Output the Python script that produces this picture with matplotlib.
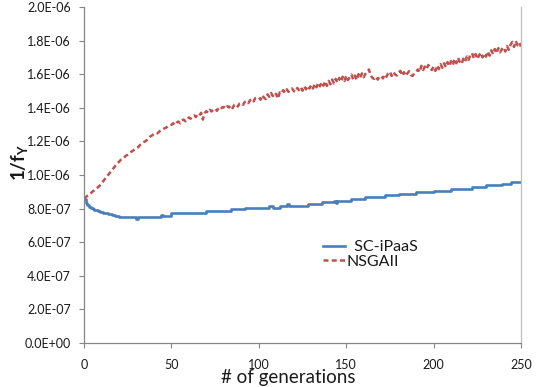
import matplotlib
matplotlib.use("Agg")
import matplotlib.pyplot as plt
from matplotlib.ticker import FuncFormatter, FixedLocator
from matplotlib.lines import Line2D

plt.rcParams['font.family'] = ['Lato', 'DejaVu Sans']
plt.rcParams['mathtext.fontset'] = 'custom'
plt.rcParams['mathtext.bf'] = 'Lato:bold'
plt.rcParams['mathtext.rm'] = 'Lato'

UNIT = 1e-7  # values below are in units of 1e-7

# SC-iPaaS: step-like best value (generation breakpoints, value)
sc_gen = [0, 1, 2, 3, 4, 5, 6, 7, 8, 9, 10, 11, 12, 13, 14, 15, 16, 17, 18, 19, 20,
          29, 30, 31, 44, 45, 50, 70, 84, 92, 106, 108, 112, 116, 117, 128, 136,
          143, 144, 145, 153, 161, 172, 180, 190, 200, 210, 222, 230, 239, 244, 250]
sc_val = [8.55, 8.35, 8.22, 8.12, 8.04, 7.98, 7.94, 7.90, 7.86, 7.82, 7.78, 7.76,
          7.74, 7.72, 7.70, 7.66, 7.64, 7.62, 7.58, 7.54, 7.48,
          7.48, 7.40, 7.48, 7.60, 7.56, 7.76, 7.86, 7.96, 8.06, 8.14, 8.06, 8.17,
          8.25, 8.17, 8.29, 8.37, 8.43, 8.33, 8.47, 8.57, 8.67, 8.79, 8.89, 8.97,
          9.07, 9.17, 9.29, 9.39, 9.46, 9.56, 9.56]

# NSGAII: one value per generation 0..250
nsga_val = [
    8.60, 8.68, 8.77, 8.85, 8.93, 9.02, 9.10, 9.20, 9.27, 9.37,
    9.50, 9.62, 9.75, 9.90, 10.02, 10.16, 10.28, 10.42, 10.56, 10.70,
    10.78, 10.90, 10.96, 11.05, 11.15, 11.20, 11.28, 11.38, 11.45, 11.52,
    11.60, 11.66, 11.78, 11.86, 11.95, 12.00, 12.08, 12.18, 12.30, 12.36,
    12.45, 12.50, 12.48, 12.58, 12.66, 12.70, 12.78, 12.82, 12.90, 12.95,
    12.98, 13.08, 12.98, 13.12, 13.18, 13.08, 13.25, 13.30, 13.20, 13.38,
    13.42, 13.35, 13.50, 13.55, 13.45, 13.62, 13.55, 13.70, 13.30, 13.68,
    13.80, 13.70, 13.88, 13.78, 13.90, 13.95, 13.82, 13.98, 13.90, 14.02,
    14.05, 13.95, 14.10, 14.02, 14.15, 13.98, 14.18, 14.22, 14.08, 14.25,
    14.28, 14.18, 14.35, 14.40, 14.28, 14.45, 14.52, 14.38, 14.58, 14.62,
    14.62, 14.48, 14.75, 14.60, 14.52, 14.80, 14.65, 14.88, 14.70, 14.90,
    14.80, 14.55, 14.92, 14.85, 15.05, 14.90, 15.10, 14.95, 15.08, 15.15,
    15.00, 14.95, 15.18, 15.05, 15.22, 15.02, 15.28, 15.10, 15.30, 15.15,
    15.35, 15.15, 15.42, 15.22, 15.48, 15.28, 15.52, 15.32, 15.58, 15.30,
    15.60, 15.40, 15.68, 15.45, 15.72, 15.50, 15.78, 15.55, 15.85, 15.60,
    15.90, 15.65, 15.82, 15.98, 15.70, 15.92, 15.65, 16.00, 15.78, 16.05,
    15.82, 16.02, 16.12, 16.28, 15.92, 15.78, 15.72, 15.85, 15.68, 15.82,
    15.90, 15.75, 15.98, 15.85, 16.05, 16.15, 15.90, 16.12, 15.98, 15.92,
    16.10, 16.20, 15.92, 16.12, 15.90, 16.05, 16.18, 15.95, 15.90, 16.08,
    16.15, 16.28, 16.12, 16.50, 16.25, 16.45, 16.30, 16.55, 16.32, 16.25,
    16.45, 16.20, 16.52, 16.30, 16.60, 16.38, 16.65, 16.42, 16.72, 16.48,
    16.78, 16.55, 16.90, 16.65, 16.98, 16.72, 16.60, 16.92, 16.75, 17.05,
    16.85, 17.15, 17.25, 16.95, 17.20, 16.90, 17.12, 17.28, 17.00, 17.22,
    17.05, 17.35, 17.10, 17.42, 17.20, 17.50, 17.25, 17.55, 17.30, 17.48,
    17.60, 17.35, 17.68, 17.45, 17.75, 17.92, 17.62, 17.98, 17.72, 17.88, 17.65,
]
nsga_gen = list(range(len(nsga_val)))

x_ticks = [0, 50, 100, 150, 200, 250]
y_ticks = [0.0, 2e-7, 4e-7, 6e-7, 8e-7, 1.0e-6, 1.2e-6, 1.4e-6, 1.6e-6, 1.8e-6, 2.0e-6]
series_labels = ['  SC-iPaaS', 'NSGAII']
x_label = '# of generations'
y_label = r'$\mathbf{1/f_{Y}}$'

BLUE = '#4A7EBB'
RED = '#C0504D'
DASH = (0, (2.0, 1.3))

fig = plt.figure(figsize=(5.5, 3.87), dpi=100)
ax = fig.add_axes([84/550, 44/387, 437/550, 336/387])

ax.plot(sc_gen, [v * UNIT for v in sc_val], color=BLUE, lw=1.9,
        drawstyle='steps-post', solid_capstyle='butt')
ax.plot(nsga_gen, [v * UNIT for v in nsga_val], color=RED, lw=1.8,
        linestyle=DASH, dash_capstyle='butt')

ax.set_xlim(0, 250)
ax.set_ylim(0, 2e-6)
ax.xaxis.set_major_locator(FixedLocator(x_ticks))
ax.yaxis.set_major_locator(FixedLocator(y_ticks))
ax.yaxis.set_major_formatter(FuncFormatter(lambda v, p: f"{v:.1E}"))

for s in ['left', 'bottom']:
    ax.spines[s].set_color('#868686')
    ax.spines[s].set_linewidth(0.9)
ax.spines['right'].set_color('#BFBFBF')
ax.spines['right'].set_linewidth(0.9)
ax.spines['top'].set_visible(False)

ax.tick_params(axis='both', direction='out', length=3.5, width=0.8,
               color='#868686', labelsize=9, labelcolor='#1a1a1a')
ax.tick_params(axis='y', pad=6)
ax.tick_params(axis='x', pad=8)

fig.text(288/550, 1 - 378/387, x_label, ha='center', va='center',
         fontsize=13.5, color='#1a1a1a')
fig.text(20/550, 1 - 162/387, y_label, ha='center', va='center',
         rotation=90, fontsize=13.5, color='#1a1a1a')

handles = [Line2D([], [], color=BLUE, lw=1.9),
           Line2D([], [], color=RED, lw=1.8, linestyle=DASH)]
leg = ax.legend(handles, series_labels, loc='upper left',
                bbox_to_anchor=((323 - 84) / 437, (343 - 240) / 336),
                frameon=False, fontsize=11.5, handlelength=1.4,
                handletextpad=0.05, labelspacing=0.02, borderpad=0,
                borderaxespad=0)
for t in leg.get_texts():
    t.set_color('#1a1a1a')

fig.savefig('out.png', dpi=100)
